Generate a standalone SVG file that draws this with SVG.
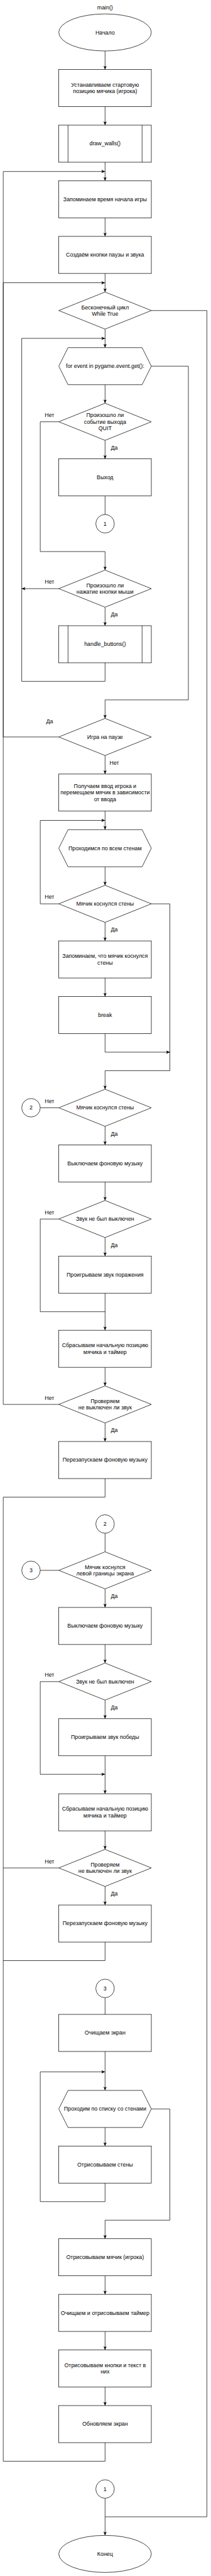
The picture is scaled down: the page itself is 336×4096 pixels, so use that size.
<svg xmlns="http://www.w3.org/2000/svg" width="336" height="4096" viewBox="0 0 336 4096">
<style>
.n{fill:#fff;stroke:#000;stroke-width:1}
.c{fill:none;stroke:#000;stroke-width:1}
.t{font-family:"Liberation Sans",Arial,Helvetica,sans-serif;font-size:12px;fill:#000;text-anchor:middle}
</style>
<defs>
<marker id="a" viewBox="0 0 8 8" refX="8" refY="4" markerWidth="8" markerHeight="8" markerUnits="userSpaceOnUse" orient="auto">
<path d="M0,0.5 L8,4 L0,7.5 L2,4 Z" fill="#000"/>
</marker>
</defs>
<rect width="336" height="4096" fill="#fff"/>
<g transform="scale(0.737)">
<g id="connectors">
<path class="c" d="M227,110V150" marker-end="url(#a)"/>
<path class="c" d="M227,230V270" marker-end="url(#a)"/>
<path class="c" d="M227,350V390" marker-end="url(#a)"/>
<path class="c" d="M227,470V510" marker-end="url(#a)"/>
<path class="c" d="M227,590V630" marker-end="url(#a)"/>
<path class="c" d="M227,710V750" marker-end="url(#a)"/>
<path class="c" d="M227,830V870" marker-end="url(#a)"/>
<path class="c" d="M227,950V990" marker-end="url(#a)"/>
<path class="c" d="M227,1070V1110"/>
<path class="c" d="M127,910H87V1190H227V1230" marker-end="url(#a)"/>
<path class="c" d="M127,1270H47" marker-end="url(#a)"/>
<path class="c" d="M227,1310V1350" marker-end="url(#a)"/>
<path class="c" d="M227,1430V1470H47V730H227" marker-end="url(#a)"/>
<path class="c" d="M327,790H407V1510H227V1550" marker-end="url(#a)"/>
<path class="c" d="M327,670H447V5430H227"/>
<path class="c" d="M127,1590H7V610H227" marker-end="url(#a)"/>
<path class="c" d="M227,1630V1670" marker-end="url(#a)"/>
<path class="c" d="M227,1750V1790" marker-end="url(#a)"/>
<path class="c" d="M227,1870V1910" marker-end="url(#a)"/>
<path class="c" d="M127,1950H87V1770H227" marker-end="url(#a)"/>
<path class="c" d="M227,1990V2030" marker-end="url(#a)"/>
<path class="c" d="M227,2110V2150" marker-end="url(#a)"/>
<path class="c" d="M227,2230V2270H367" marker-end="url(#a)"/>
<path class="c" d="M327,1950H367V2310H227V2350" marker-end="url(#a)"/>
<path class="c" d="M87,2390H127"/>
<path class="c" d="M227,2430V2470" marker-end="url(#a)"/>
<path class="c" d="M227,2550V2590" marker-end="url(#a)"/>
<path class="c" d="M127,2630H87V2830H227"/>
<path class="c" d="M227,2670V2710" marker-end="url(#a)"/>
<path class="c" d="M227,2790V2870" marker-end="url(#a)"/>
<path class="c" d="M227,2950V2990" marker-end="url(#a)"/>
<path class="c" d="M127,3030H7V370H227" marker-end="url(#a)"/>
<path class="c" d="M227,3070V3110" marker-end="url(#a)"/>
<path class="c" d="M227,3190V3230H7"/>
<path class="c" d="M227,3308V3348"/>
<path class="c" d="M87,3388H127"/>
<path class="c" d="M227,3428V3468" marker-end="url(#a)"/>
<path class="c" d="M227,3548V3588" marker-end="url(#a)"/>
<path class="c" d="M127,3628H87V3828H227" marker-end="url(#a)"/>
<path class="c" d="M227,3668V3708" marker-end="url(#a)"/>
<path class="c" d="M227,3788V3870" marker-end="url(#a)"/>
<path class="c" d="M227,3950V3990" marker-end="url(#a)"/>
<path class="c" d="M127,4030H7"/>
<path class="c" d="M227,4070V4110" marker-end="url(#a)"/>
<path class="c" d="M227,4190V4230H7"/>
<path class="c" d="M227,4310V4346"/>
<path class="c" d="M227,4426V4510" marker-end="url(#a)"/>
<path class="c" d="M227,4710V4750H87V4470H227" marker-end="url(#a)"/>
<path class="c" d="M327,4550H367V4790H227V4830" marker-end="url(#a)"/>
<path class="c" d="M227,4590V4630" marker-end="url(#a)"/>
<path class="c" d="M227,4910V4950" marker-end="url(#a)"/>
<path class="c" d="M227,5030V5070" marker-end="url(#a)"/>
<path class="c" d="M227,5150V5190" marker-end="url(#a)"/>
<path class="c" d="M227,5270V5310H7V3230"/>
<path class="c" d="M227,5390V5470" marker-end="url(#a)"/>
</g>
<g id="labels">
<text class="t" x="247" y="970">Да</text>
<text class="t" x="107" y="900">Нет</text>
<text class="t" x="107" y="1259">Нет</text>
<text class="t" x="247" y="1330">Да</text>
<text class="t" x="107" y="1560">Да</text>
<text class="t" x="247" y="1650">Нет</text>
<text class="t" x="107" y="1939">Нет</text>
<text class="t" x="247" y="2010">Да</text>
<text class="t" x="107" y="2380">Нет</text>
<text class="t" x="247" y="2450">Да</text>
<text class="t" x="107" y="2620">Нет</text>
<text class="t" x="247" y="2690">Да</text>
<text class="t" x="107" y="3020">Нет</text>
<text class="t" x="247" y="3089">Да</text>
<text class="t" x="247" y="3448">Да</text>
<text class="t" x="107" y="3618">Нет</text>
<text class="t" x="247" y="3688">Да</text>
<text class="t" x="107" y="4020">Нет</text>
<text class="t" x="247" y="4090">Да</text>
</g>
<g id="title"><text class="t" x="227" y="20">main()</text></g>
<g id="start"><ellipse class="n" cx="227" cy="70" rx="100" ry="40"/><text class="t" x="227" y="74">Начало</text></g>
<g id="n1"><rect class="n" x="127" y="150" width="200" height="80"/><text class="t" x="227" y="187">Устанавливаем стартовую</text><text class="t" x="227" y="201">позицию мячика (игрока)</text></g>
<g id="n2"><rect class="n" x="127" y="270" width="200" height="80"/><path class="c" d="M147,270V350M307,270V350"/><text class="t" x="227" y="314">draw_walls()</text></g>
<g id="n3"><rect class="n" x="127" y="390" width="200" height="80"/><text class="t" x="227" y="434">Запоминаем время начала игры</text></g>
<g id="n4"><rect class="n" x="127" y="510" width="200" height="80"/><text class="t" x="227" y="554">Создаём кнопки паузы и звука</text></g>
<g id="n5"><polygon class="n" points="127,670 227,630 327,670 227,710"/><text class="t" x="227" y="667">Бесконечный цикл</text><text class="t" x="227" y="681">While True</text></g>
<g id="n6"><polygon class="n" points="127,790 147,750 307,750 327,790 307,830 147,830"/><text class="t" x="227" y="794">for event in pygame.event.get():</text></g>
<g id="n7"><polygon class="n" points="127,910 227,870 327,910 227,950"/><text class="t" x="227" y="900">Произошло ли</text><text class="t" x="227" y="914">событие выхода</text><text class="t" x="227" y="928">QUIT</text></g>
<g id="n8"><rect class="n" x="127" y="990" width="200" height="80"/><text class="t" x="227" y="1034">Выход</text></g>
<g id="n9"><circle class="n" cx="227" cy="1130" r="20"/><text class="t" x="227" y="1134">1</text></g>
<g id="n10"><polygon class="n" points="127,1270 227,1230 327,1270 227,1310"/><text class="t" x="227" y="1267">Произошло ли</text><text class="t" x="227" y="1281">нажатие кнопки мыши</text></g>
<g id="n11"><rect class="n" x="127" y="1350" width="200" height="80"/><path class="c" d="M147,1350V1430M307,1350V1430"/><text class="t" x="227" y="1394">handle_buttons()</text></g>
<g id="n12"><polygon class="n" points="127,1590 227,1550 327,1590 227,1630"/><text class="t" x="227" y="1594">Игра на паузе</text></g>
<g id="n13"><rect class="n" x="127" y="1670" width="200" height="80"/><text class="t" x="227" y="1700">Получаем ввод игрока и</text><text class="t" x="227" y="1714">перемещаем мячик в зависимости</text><text class="t" x="227" y="1728">от ввода</text></g>
<g id="n14"><polygon class="n" points="127,1830 147,1790 307,1790 327,1830 307,1870 147,1870"/><text class="t" x="227" y="1834">Проходимся по всем стенам</text></g>
<g id="n15"><polygon class="n" points="127,1950 227,1910 327,1950 227,1990"/><text class="t" x="227" y="1954">Мячик коснулся стены</text></g>
<g id="n16"><rect class="n" x="127" y="2030" width="200" height="80"/><text class="t" x="227" y="2067">Запоминаем, что мячик коснулся</text><text class="t" x="227" y="2081">стены</text></g>
<g id="n17"><rect class="n" x="127" y="2150" width="200" height="80"/><text class="t" x="227" y="2194">break</text></g>
<g id="n18"><polygon class="n" points="127,2390 227,2350 327,2390 227,2430"/><text class="t" x="227" y="2394">Мячик коснулся стены</text></g>
<g id="n19"><circle class="n" cx="67" cy="2390" r="20"/><text class="t" x="67" y="2394">2</text></g>
<g id="n20"><rect class="n" x="127" y="2470" width="200" height="80"/><text class="t" x="227" y="2514">Выключаем фоновую музыку</text></g>
<g id="n21"><polygon class="n" points="127,2630 227,2590 327,2630 227,2670"/><text class="t" x="227" y="2634">Звук не был выключен</text></g>
<g id="n22"><rect class="n" x="127" y="2710" width="200" height="80"/><text class="t" x="227" y="2754">Проигрываем звук поражения</text></g>
<g id="n23"><rect class="n" x="127" y="2870" width="200" height="80"/><text class="t" x="227" y="2907">Сбрасываем начальную позицию</text><text class="t" x="227" y="2921">мячика и таймер</text></g>
<g id="n24"><polygon class="n" points="127,3030 227,2990 327,3030 227,3070"/><text class="t" x="227" y="3027">Проверяем</text><text class="t" x="227" y="3041">не выключен ли звук</text></g>
<g id="n25"><rect class="n" x="127" y="3110" width="200" height="80"/><text class="t" x="227" y="3154">Перезапускаем фоновую музыку</text></g>
<g id="n26"><circle class="n" cx="227" cy="3288" r="20"/><text class="t" x="227" y="3292">2</text></g>
<g id="n27"><polygon class="n" points="127,3388 227,3348 327,3388 227,3428"/><text class="t" x="227" y="3385">Мячик коснулся</text><text class="t" x="227" y="3399">левой границы экрана</text></g>
<g id="n28"><circle class="n" cx="67" cy="3388" r="20"/><text class="t" x="67" y="3392">3</text></g>
<g id="n29"><rect class="n" x="127" y="3468" width="200" height="80"/><text class="t" x="227" y="3512">Выключаем фоновую музыку</text></g>
<g id="n30"><polygon class="n" points="127,3628 227,3588 327,3628 227,3668"/><text class="t" x="227" y="3632">Звук не был выключен</text></g>
<g id="n31"><rect class="n" x="127" y="3708" width="200" height="80"/><text class="t" x="227" y="3752">Проигрываем звук победы</text></g>
<g id="n32"><rect class="n" x="127" y="3870" width="200" height="80"/><text class="t" x="227" y="3907">Сбрасываем начальную позицию</text><text class="t" x="227" y="3921">мячика и таймер</text></g>
<g id="n33"><polygon class="n" points="127,4030 227,3990 327,4030 227,4070"/><text class="t" x="227" y="4027">Проверяем</text><text class="t" x="227" y="4041">не выключен ли звук</text></g>
<g id="n34"><rect class="n" x="127" y="4110" width="200" height="80"/><text class="t" x="227" y="4154">Перезапускаем фоновую музыку</text></g>
<g id="n35"><circle class="n" cx="227" cy="4290" r="20"/><text class="t" x="227" y="4294">3</text></g>
<g id="n36"><rect class="n" x="127" y="4346" width="200" height="80"/><text class="t" x="227" y="4390">Очищаем экран</text></g>
<g id="n37"><polygon class="n" points="127,4550 147,4510 307,4510 327,4550 307,4590 147,4590"/><text class="t" x="227" y="4554">Проходим по списку со стенами</text></g>
<g id="n38"><rect class="n" x="127" y="4630" width="200" height="80"/><text class="t" x="227" y="4674">Отрисовываем стены</text></g>
<g id="n39"><rect class="n" x="127" y="4830" width="200" height="80"/><text class="t" x="227" y="4874">Отрисовываем мячик (игрока)</text></g>
<g id="n40"><rect class="n" x="127" y="4950" width="200" height="80"/><text class="t" x="227" y="4994">Очищаем и отрисовываем таймер</text></g>
<g id="n41"><rect class="n" x="127" y="5070" width="200" height="80"/><text class="t" x="227" y="5107">Отрисовываем кнопки и текст в</text><text class="t" x="227" y="5121">них</text></g>
<g id="n42"><rect class="n" x="127" y="5190" width="200" height="80"/><text class="t" x="227" y="5234">Обновляем экран</text></g>
<g id="n43"><circle class="n" cx="227" cy="5370" r="20"/><text class="t" x="227" y="5374">1</text></g>
<g id="end"><ellipse class="n" cx="227" cy="5510" rx="100" ry="40"/><text class="t" x="227" y="5514">Конец</text></g>
</g>
</svg>
